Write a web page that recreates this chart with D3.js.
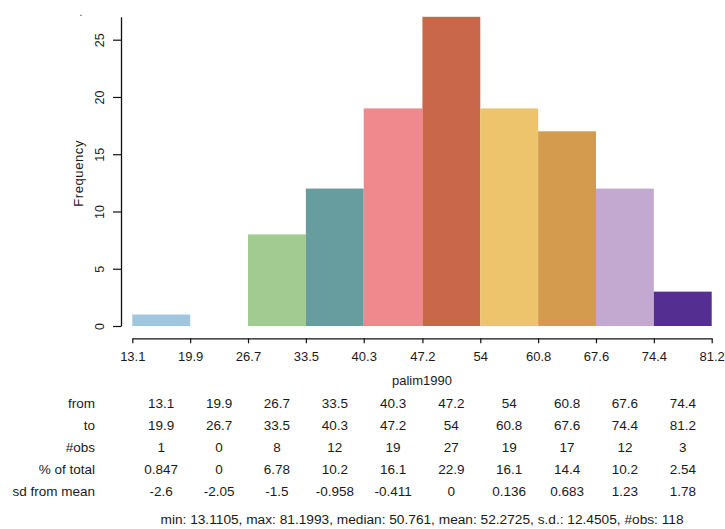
<!DOCTYPE html>
<html>
<head>
<meta charset="utf-8">
<script src="https://cdn.jsdelivr.net/npm/d3@7/dist/d3.min.js"></script>
<style>
  html, body { margin: 0; padding: 0; background: #fff; }
  svg { display: block; font-family: "Liberation Sans", Arial, sans-serif; }
</style>
</head>
<body>
<svg id="chart" width="725" height="529"></svg>
<script>
// ---- data ----
const binEdges = [13.1, 19.9, 26.7, 33.5, 40.3, 47.2, 54, 60.8, 67.6, 74.4, 81.2];
const edgeLabels = ["13.1", "19.9", "26.7", "33.5", "40.3", "47.2", "54", "60.8", "67.6", "74.4", "81.2"];
const counts = [1, 0, 8, 12, 19, 27, 19, 17, 12, 3];
const pctTotal = ["0.847", "0", "6.78", "10.2", "16.1", "22.9", "16.1", "14.4", "10.2", "2.54"];
const sdFromMean = ["-2.6", "-2.05", "-1.5", "-0.958", "-0.411", "0", "0.136", "0.683", "1.23", "1.78"];
const barColors = ["#9fc7df", "#ffffff", "#a1cb90", "#679d9f", "#ef898d", "#c9674b", "#edc36b", "#d49a4d", "#c3a8cf", "#542e91"];
const yTicks = [0, 5, 10, 15, 20, 25];
const rowLabels = ["from", "to", "#obs", "% of total", "sd from mean"];
const xLabel = "palim1990";
const yLabel = "Frequency";
const summary = "min: 13.1105, max: 81.1993, median: 50.761, mean: 52.2725, s.d.: 12.4505, #obs: 118";

// ---- layout ----
const svg = d3.select("#chart");
const x = d3.scaleLinear().domain([binEdges[0], binEdges[binEdges.length - 1]]).range([132.3, 711.7]);
const y = d3.scaleLinear().domain([0, 27]).range([326, 16.8]);
const xAxisY = 338.3;
const yAxisX = 121;
const textColor = "#1a1a1a";

const bins = counts.map((c, i) => ({ x0: binEdges[i], x1: binEdges[i + 1], n: c, color: barColors[i] }));

// bars
svg.append("g").selectAll("rect").data(bins.filter(d => d.n > 0)).join("rect")
  .attr("x", d => x(d.x0))
  .attr("width", d => x(d.x1) - x(d.x0))
  .attr("y", d => y(d.n))
  .attr("height", d => y(0) - y(d.n))
  .attr("fill", d => d.color);

// y axis
const gy = svg.append("g").attr("transform", `translate(${yAxisX},0)`)
  .call(d3.axisLeft(y).tickValues(yTicks).tickSize(8).tickSizeOuter(0));
gy.select(".domain").attr("stroke", "#111").attr("stroke-width", 1.3);
gy.selectAll(".tick line").attr("stroke", "#111").attr("stroke-width", 1.2);
gy.selectAll(".tick text")
  .attr("transform", "rotate(-90)")
  .attr("x", 0).attr("y", -21).attr("dy", null)
  .attr("text-anchor", "middle")
  .attr("dominant-baseline", "central")
  .attr("fill", textColor)
  .style("font-size", "12.5px")
  .style("font-family", "'Liberation Sans', Arial, sans-serif");

// x axis
const gx = svg.append("g").attr("transform", `translate(0,${xAxisY})`)
  .call(d3.axisBottom(x).tickValues(binEdges).tickFormat((d, i) => edgeLabels[i]).tickSize(5).tickSizeOuter(0));
gx.select(".domain").attr("stroke", "#111").attr("stroke-width", 1.3);
gx.selectAll(".tick line").attr("stroke", "#111").attr("stroke-width", 1.2);
gx.selectAll(".tick text")
  .attr("y", 18).attr("dy", null)
  .attr("dominant-baseline", "central")
  .attr("fill", textColor)
  .style("font-size", "13px")
  .style("font-family", "'Liberation Sans', Arial, sans-serif");

// axis titles
svg.append("text")
  .attr("transform", `translate(78,${(y(0) + y(27)) / 2 + 2}) rotate(-90)`)
  .attr("text-anchor", "middle").attr("dominant-baseline", "central")
  .attr("fill", textColor).style("font-size", "13px").style("letter-spacing", "0.6px")
  .text(yLabel);

svg.append("text")
  .attr("x", (x.range()[0] + x.range()[1]) / 2).attr("y", 380.5)
  .attr("text-anchor", "middle").attr("dominant-baseline", "central")
  .attr("fill", textColor).style("font-size", "13px")
  .text(xLabel);

svg.append("text")
  .attr("x", 81).attr("y", 12)
  .attr("text-anchor", "middle").attr("dominant-baseline", "central")
  .attr("fill", textColor).style("font-size", "10px")
  .text(".");

// table
const rows = [
  binEdges.slice(0, -1).map((d, i) => edgeLabels[i]),
  binEdges.slice(1).map((d, i) => edgeLabels[i + 1]),
  counts.map(String),
  pctTotal,
  sdFromMean
];
const rowY = [403, 425, 447, 469, 491];
const table = svg.append("g").style("font-size", "13.5px").attr("fill", textColor);
rows.forEach((vals, r) => {
  table.append("text")
    .attr("x", 95).attr("y", rowY[r])
    .attr("text-anchor", "end").attr("dominant-baseline", "central")
    .text(rowLabels[r]);
  table.selectAll(null).data(vals).join("text")
    .attr("x", (d, i) => x((binEdges[i] + binEdges[i + 1]) / 2))
    .attr("y", rowY[r])
    .attr("text-anchor", "middle").attr("dominant-baseline", "central")
    .text(d => d);
});

svg.append("text")
  .attr("x", (x.range()[0] + x.range()[1]) / 2).attr("y", 519)
  .attr("text-anchor", "middle").attr("dominant-baseline", "central")
  .attr("fill", textColor).style("font-size", "13.7px")
  .text(summary);
</script>
</body>
</html>
